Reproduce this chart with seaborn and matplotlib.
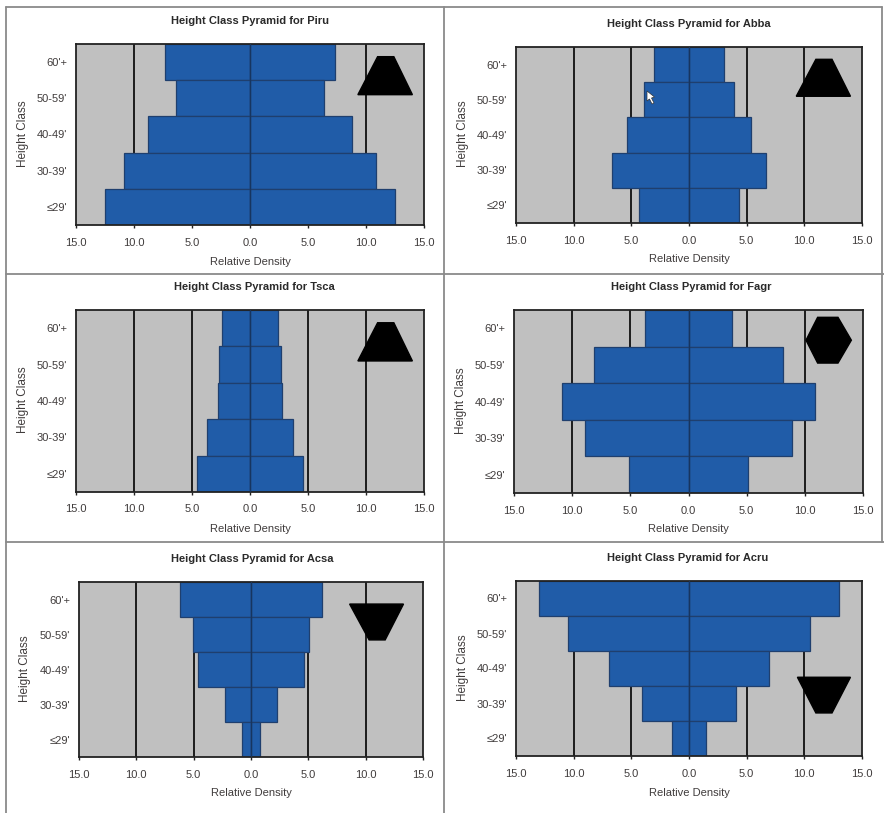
import matplotlib
matplotlib.use('Agg')
import matplotlib.pyplot as plt
import pandas as pd
import seaborn as sns
from matplotlib.lines import Line2D
from matplotlib.patches import Polygon
from matplotlib.ticker import FuncFormatter

height_classes = ["60'+", "50-59'", "40-49'", "30-39'", "≤29'"]

piru_vals = [7.3, 6.4, 8.8, 10.9, 12.5]
abba_vals = [3.0, 3.9, 5.4, 6.7, 4.3]
tsca_vals = [2.4, 2.7, 2.8, 3.7, 4.6]
fagr_vals = [3.7, 8.1, 10.9, 8.9, 5.1]
acsa_vals = [6.2, 5.1, 4.6, 2.3, 0.8]
acru_vals = [13.0, 10.5, 6.9, 4.1, 1.5]

W, H = 884, 813

sns.set_theme(style='white')
plt.rcParams['font.family'] = ['Liberation Sans', 'DejaVu Sans']

# name, values, axes box in pixels (left, right, top, bottom), icon,
# title centre (x, y), x label y, y label x
panels = [
    ('Piru', piru_vals, (76, 424, 44, 225), 'up', (250, 21), 262, 23),
    ('Abba', abba_vals, (516, 862, 47, 223), 'up', (689, 24), 259, 463),
    ('Tsca', tsca_vals, (76, 424, 310, 492), 'up', (254, 287), 529, 23),
    ('Fagr', fagr_vals, (514, 863, 310, 493), 'hex', (691, 287), 529, 461),
    ('Acsa', acsa_vals, (79, 423, 582, 757), 'down_a', (252, 559), 793, 25),
    ('Acru', acru_vals, (516, 862, 581, 756), 'down_b', (688, 558), 793, 463),
]

# icon outlines in (value, fraction of axes height)
icons = {
    'up': [(9.3, 0.72), (11.0, 0.93), (12.4, 0.93), (14.0, 0.72)],
    'hex': [(10.1, 0.835), (11.1, 0.96), (12.85, 0.96), (14.0, 0.835), (12.85, 0.71), (11.1, 0.71)],
    'down_a': [(8.6, 0.874), (13.3, 0.874), (11.7, 0.669), (10.3, 0.669)],
    'down_b': [(9.4, 0.45), (14.0, 0.45), (12.4, 0.246), (11.0, 0.246)],
}

fig = plt.figure(figsize=(W / 100, H / 100), dpi=100, facecolor='white')

text_col = '#403c3c'
for name, vals, (l, r, t, b), icon, (tx, ty), xl_y, yl_x in panels:
    ax = fig.add_axes([l / W, 1 - b / H, (r - l) / W, (b - t) / H])
    df = pd.DataFrame({'cls': height_classes, 'right': vals, 'left': [-v for v in vals]})
    ax.set_facecolor('#c0c0c0')
    for side in ['left', 'right']:
        sns.barplot(data=df, y='cls', x=side, orient='h', width=1.0, color='#205ca8',
                    saturation=1, edgecolor='#1f3f6e', linewidth=0.9, ax=ax, zorder=2)
    for gx in [-10, -5, 5, 10]:
        ax.axvline(gx, color='#1c1c1c', lw=1.4, zorder=1)
    ax.axvline(0, color='#17355f', lw=1.0, zorder=3)
    ax.set_xlim(-15, 15)
    ax.set_ylim(4.5, -0.5)
    ax.set_xticks([-15, -10, -5, 0, 5, 10, 15])
    ax.xaxis.set_major_formatter(FuncFormatter(lambda v, pos: f'{abs(v):.1f}'))
    ax.tick_params(axis='x', length=2.5, width=1, color='#222222', labelsize=8,
                   labelcolor=text_col, pad=6.5, bottom=True)
    ax.tick_params(axis='y', length=0, labelsize=8, labelcolor=text_col, pad=6.5)
    ax.set_xlabel('')
    ax.set_ylabel('')
    for s in ax.spines.values():
        s.set_visible(True)
        s.set_color('#222222')
        s.set_linewidth(1.3)
    ax.add_patch(Polygon(icons[icon], closed=True, facecolor='black', edgecolor='black',
                         transform=ax.get_xaxis_transform(), zorder=4, clip_on=False))
    fig.text(tx / W, 1 - ty / H, f'Height Class Pyramid for {name}', ha='center', va='center',
             fontsize=8, fontweight='bold', color='#2a2a2a')
    fig.text((l + r) / 2 / W, 1 - xl_y / H, 'Relative Density', ha='center', va='center',
             fontsize=8, color=text_col)
    fig.text(yl_x / W, 1 - ((t + b) / 2 - 1) / H, 'Height Class', rotation=90, ha='center', va='center',
             fontsize=8.5, color=text_col)

# panel frame lines
frame = '#8a8a8a'
for xs, ys in [((6, 882), (7, 7)), ((6, 884), (274, 274)), ((6, 884), (542, 542)),
               ((6, 6), (7, 813)), ((444, 444), (7, 813)), ((882, 882), (7, 542))]:
    fig.add_artist(Line2D([x / W for x in xs], [1 - y / H for y in ys], color=frame, lw=1.3))

# mouse pointer caught in the screenshot
cursor = [(647, 91), (647, 101), (649.5, 99), (652, 104), (654, 103), (651.5, 98), (654.5, 97)]
fig.add_artist(Polygon([(x / W, 1 - y / H) for x, y in cursor], closed=True, facecolor='white',
                       edgecolor='#333333', lw=0.5, transform=fig.transFigure, zorder=10))

plt.savefig('out.png', dpi=100)
